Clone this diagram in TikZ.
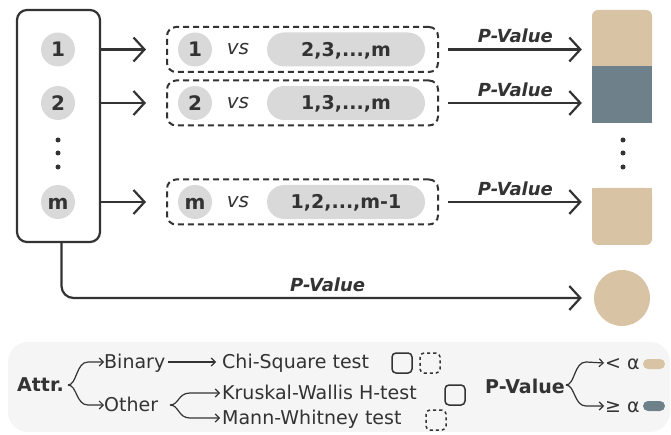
\documentclass[tikz,border=0pt]{standalone}
\usepackage{fontspec}
\setmainfont{DejaVu Sans}
\usetikzlibrary{arrows.meta,calc}
\definecolor{ink}{HTML}{333333}
\definecolor{tan}{HTML}{D9C3A5}
\definecolor{slate}{HTML}{6E808A}
\definecolor{chip}{HTML}{D9D9D9}
\definecolor{panel}{HTML}{F5F5F5}
\tikzset{
  arr/.style={draw=ink, line width=2.2pt, -{Straight Barb[length=11pt,width=24pt]}},
  larr/.style={draw=ink, line width=1.2pt, -{Straight Barb[length=4pt,width=8pt]}},
  chip/.style={circle, fill=chip, minimum size=34pt, inner sep=0pt, text=ink,
    text height=14.6pt, text depth=0pt, font=\bfseries\fontsize{20}{20}\selectfont},
  pill/.style={rounded corners=17pt, fill=chip, minimum width=158pt, minimum height=34pt,
    inner sep=0pt, text=ink, text height=13.9pt, text depth=0pt,
    font=\bfseries\fontsize{19}{19}\selectfont},
  grp/.style={draw=ink, line width=2pt, dash pattern=on 6pt off 4pt, rounded corners=9pt,
    minimum width=271pt, minimum height=45pt},
  vstext/.style={text=ink, font=\itshape\fontsize{20}{20}\selectfont},
  pv/.style={text=ink, font=\bfseries\itshape\fontsize{18}{18}\selectfont},
  lt/.style={text=ink, font=\fontsize{19}{19}\selectfont, inner sep=0pt,
    text height=13.9pt, text depth=0pt, anchor=west},
  lb/.style={lt, font=\bfseries\fontsize{19}{19}\selectfont},
  dotn/.style={circle, fill=ink, inner sep=0pt, minimum size=5pt},
  key/.style={draw=ink, line width=1.5pt, rounded corners=4pt, minimum size=20pt, inner sep=0pt},
  keyd/.style={key, dash pattern=on 3pt off 3pt},
  bar/.style={inner sep=0pt, minimum width=60pt},
}
\begin{document}
\begin{tikzpicture}[x=1pt,y=-1pt]
\useasboundingbox (0,0) rectangle (671,435);

% attribute column
\node[draw=ink, line width=2.2pt, rounded corners=10pt, minimum width=83pt, minimum height=232pt] (attrs) at (58.5,126) {};
\node[chip] (a1) at (58,49.5) {1};
\node[chip] (a2) at (58,103) {2};
\node[dotn] (ad1) at (58,140) {};
\node[dotn] (ad2) at (58,153) {};
\node[dotn] (ad3) at (58,167) {};
\node[chip] (am) at (58,202) {m};

% one-vs-rest groups
\foreach \n/\y/\d/\rest in {1/49.5/1/{2,3,...,m}, 2/103/2/{1,3,...,m}, 3/202/m/{1,2,...,m-1}}{
  \node[grp] (g\n) at (302.5,\y) {};
  \node[chip] (c\n) at (195,\y) {\d};
  \node[vstext] (v\n) at (238,\y) {vs};
  \node[pill] (p\n) at (346,\y) {\rest};
}

% result bars
\node[bar, fill=tan, rounded corners=6pt, minimum height=62pt] (r1) at (622,41) {};
\node[bar, fill=slate, minimum height=57pt] (r2) at (622,94.5) {};
\node[bar, fill=tan, rounded corners=6pt, minimum height=57pt] (r3) at (622,216.5) {};
\fill[tan] (r3.north west) rectangle ([yshift=-10pt]r3.north east);
\node[dotn] (rd1) at (623,140) {};
\node[dotn] (rd2) at (623,153) {};
\node[dotn] (rd3) at (623,167) {};
\node[circle, fill=tan, minimum size=56pt, inner sep=0pt] (all) at (622,298) {};

% connectors
\draw[arr, shorten >=20pt] (attrs.east |- a1) -- (g1.west |- a1);
\draw[arr, shorten >=20pt] (attrs.east |- a2) -- (g2.west |- a2);
\draw[arr, shorten >=20pt] (attrs.east |- am) -- (g3.west |- am);
\draw[arr, shorten <=9pt, shorten >=10pt] (g1.east) -- (r1.west |- g1.east)
  node[pv, midway, above=2pt] {P-Value};
\draw[arr, shorten <=9pt, shorten >=10pt] (g2.east) -- (r2.west |- g2.east)
  node[pv, midway, above=2pt] {P-Value};
\draw[arr, shorten <=9pt, shorten >=10pt] (g3.east) -- (r3.west |- g3.east)
  node[pv, midway, above=2pt] {P-Value};
\draw[arr, rounded corners=12pt, shorten >=12pt] ([xshift=3pt]attrs.south) |- (all.west)
  node[pv, pos=0.75, above=2pt] {P-Value};

% legend panel
\fill[panel, rounded corners=20pt] (8,342) rectangle (670,432);
\node[lb] (attr) at (17,385) {Attr.};
\node[lt] (bin) at (104,362) {Binary};
\node[lt] (oth) at (104,405) {Other};
\node[lt] (chi) at (222,362) {Chi-Square test};
\node[lt] (kw) at (222,393) {Kruskal-Wallis H-test};
\node[lt] (mw) at (222,418) {Mann-Whitney test};
\node[key] (k1) at (402,363) {};
\node[keyd] (k2) at (430,363) {};
\node[key] (k3) at (455,395) {};
\node[keyd] (k4) at (436,420) {};
\node[lb] (pvl) at (485,387) {P-Value};
\node[lt] (lt1) at (605,363) {< α};
\node[lt] (ge1) at (605,406) {≥ α};
\node[fill=tan, rounded corners=5pt, minimum width=22pt, minimum height=10pt, inner sep=0pt] (kt) at (654,364) {};
\node[fill=slate, rounded corners=5pt, minimum width=22pt, minimum height=10pt, inner sep=0pt] (ks) at (654,406) {};

\coordinate (b1) at (68,385);
\coordinate (b2) at (170,405);
\coordinate (b3) at (566,385);
\draw[larr] (b1) .. controls (77,385) and (76,362) .. (88,362) -- (bin.west);
\draw[larr] (b1) .. controls (77,385) and (76,405) .. (88,405) -- (oth.west);
\draw[larr, shorten <=3pt, shorten >=6pt] (bin.east) -- (chi.west);
\draw[larr] (b2) .. controls (179,405) and (178,393) .. (190,393) -- ([xshift=-2pt]kw.west);
\draw[larr] (b2) .. controls (179,405) and (178,418) .. (190,418) -- ([xshift=-2pt]mw.west);
\draw[larr] (b3) .. controls (575,385) and (574,362) .. (586,362) -- ([xshift=-1pt]lt1.west);
\draw[larr] (b3) .. controls (575,385) and (574,406) .. (586,406) -- ([xshift=-1pt]ge1.west);
\end{tikzpicture}
\end{document}
